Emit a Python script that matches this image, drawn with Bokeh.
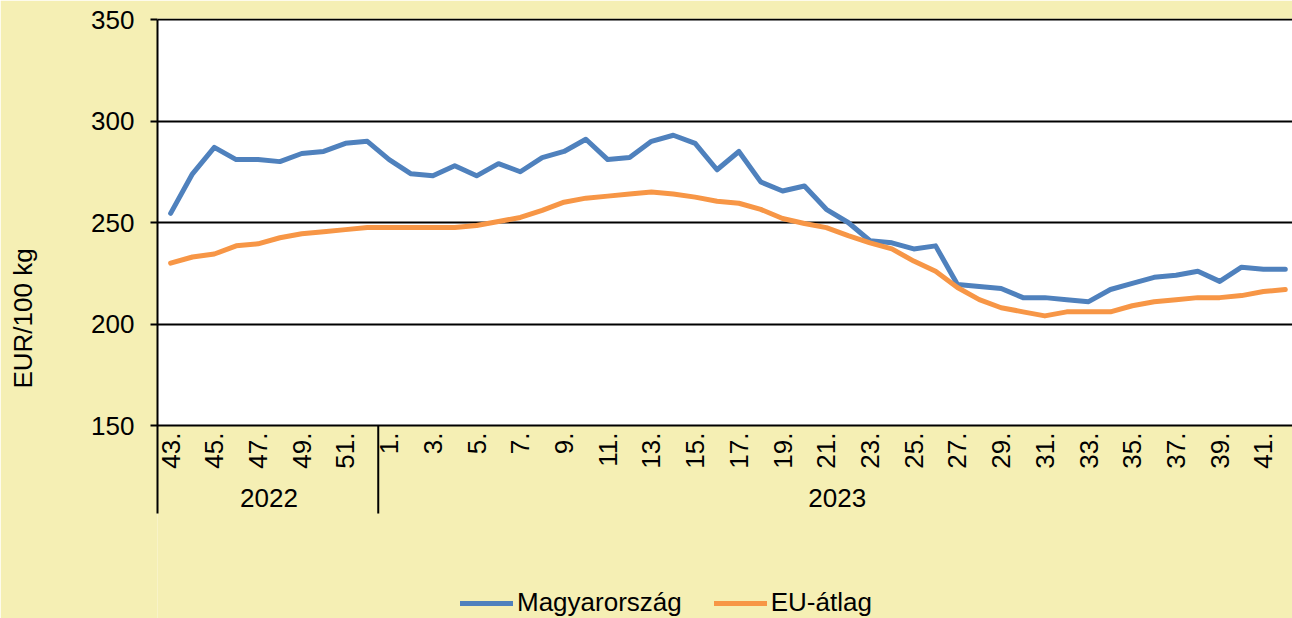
import math
from bokeh.plotting import figure
from bokeh.models import (ColumnDataSource, FixedTicker, BoxAnnotation, Legend,
                          LegendItem, Range1d)
from bokeh.core.properties import value
from bokeh.embed import file_html
from bokeh.resources import INLINE

# ---------------- data ----------------
weeks_2022 = list(range(43, 53))
weeks_2023 = list(range(1, 43))
years = ["2022", "2023"]
y_ticks = [150, 200, 250, 300, 350]

hungary = [254.5, 274, 287, 281, 281, 280, 284, 285, 289, 290,
           281, 274, 273, 278, 273, 279, 275, 282, 285, 291,
           281, 282, 290, 293, 289, 276, 285, 270, 265.5, 268,
           256.5, 250, 241, 240, 237, 238.5, 219.5, 218.5, 217.5, 213,
           213, 212, 211, 217, 220, 223, 224, 226, 221, 228,
           227, 227]
eu_avg = [230, 233, 234.5, 238.5, 239.5, 242.5, 244.5, 245.5, 246.5, 247.5,
          247.5, 247.5, 247.5, 247.5, 248.5, 250.5, 252.5, 256, 260, 262,
          263, 264, 265, 264, 262.5, 260.5, 259.5, 256.5, 252, 249.5,
          247.5, 243.5, 240, 237, 231, 226, 218, 212, 208, 206,
          204, 206, 206, 206, 209, 211, 212, 213, 213, 214,
          216, 217]

# ---------------- style / layout ----------------
FONT = "Liberation Sans"
FS = "26px"
BG = "#F5EFB4"
BLUE = "#4F81BD"
ORANGE = "#F79646"
W, H = 1292, 618
TOP_BORDER = 18
LEFT_BORDER = 157
PX_PER_UNIT = 2.03
Y_TOP = 350.5
Y_BOTTOM = Y_TOP - (H - TOP_BORDER) / PX_PER_UNIT
AXIS_LOW = 150 - 88 / PX_PER_UNIT

n22 = len(weeks_2022)
n = n22 + len(weeks_2023)
x = list(range(n))
week_labels = [f"{w}." for w in weeks_2022 + weeks_2023]

p = figure(width=W, height=H, output_backend="svg", toolbar_location=None,
           x_range=Range1d(-0.6, n - 0.67), y_range=Range1d(Y_BOTTOM, Y_TOP),
           x_axis_location=None,
           min_border_left=LEFT_BORDER, min_border_right=0,
           min_border_top=TOP_BORDER, min_border_bottom=0)
p.background_fill_color = BG
p.border_fill_color = BG
p.outline_line_color = None
p.grid.visible = False

# white plot area
p.add_layout(BoxAnnotation(bottom=y_ticks[0], top=y_ticks[-1], fill_color="white",
                           fill_alpha=1, line_color=None, level="underlay"))

# horizontal grid lines
p.hspan(y=y_ticks, line_color="black", line_width=2)

# y axis
ax = p.yaxis[0]
ax.ticker = FixedTicker(ticks=y_ticks)
ax.bounds = (AXIS_LOW, y_ticks[-1])
ax.axis_line_width = 2
ax.axis_line_color = "black"
ax.major_tick_in = 0
ax.major_tick_out = 7
ax.major_tick_line_width = 2
ax.minor_tick_line_color = None
ax.major_label_standoff = 16
ax.major_label_text_font = FONT
ax.major_label_text_font_size = FS
ax.major_label_text_color = "black"
ax.axis_label = "EUR/100 kg"
ax.axis_label_text_font = FONT
ax.axis_label_text_font_size = FS
ax.axis_label_text_font_style = "normal"
ax.axis_label_text_color = "black"
ax.axis_label_standoff = 50

# week tick labels (every other week)
tick_idx = x[::2]
tick_src = ColumnDataSource(dict(x=tick_idx, y=[y_ticks[0]] * len(tick_idx),
                                 text=[week_labels[i] for i in tick_idx]))
p.text(x="x", y="y", text="text", source=tick_src, angle=math.pi / 2,
       text_align="right", text_baseline="middle", y_offset=7,
       text_font=value(FONT), text_font_size=FS, text_color="black")

# year labels
year_src = ColumnDataSource(dict(x=[(n22 - 1) / 2, n22 + (n - n22 - 1) / 2],
                                 y=[y_ticks[0]] * 2, text=years))
p.text(x="x", y="y", text="text", source=year_src, text_align="center",
       text_baseline="middle", y_offset=72,
       text_font=value(FONT), text_font_size=FS, text_color="black")

# year separator
p.segment(x0=[n22 - 0.5], y0=[y_ticks[0]], x1=[n22 - 0.5], y1=[AXIS_LOW],
          line_color="black", line_width=2)

# series
r1 = p.line(x, hungary, line_color=BLUE, line_width=5, line_join="round", line_cap="round")
r2 = p.line(x, eu_avg, line_color=ORANGE, line_width=5, line_join="round", line_cap="round")

legend = Legend(items=[LegendItem(label="Magyarország", renderers=[r1]),
                       LegendItem(label="EU-átlag", renderers=[r2])],
                location=(303, 0), orientation="horizontal",
                background_fill_alpha=0, border_line_color=None,
                padding=0, margin=0, spacing=32, label_standoff=4,
                glyph_width=53, glyph_height=20,
                label_text_font=FONT, label_text_font_size=FS,
                label_text_color="black")
p.add_layout(legend)

open("out.html", "w").write(file_html(p, INLINE))
